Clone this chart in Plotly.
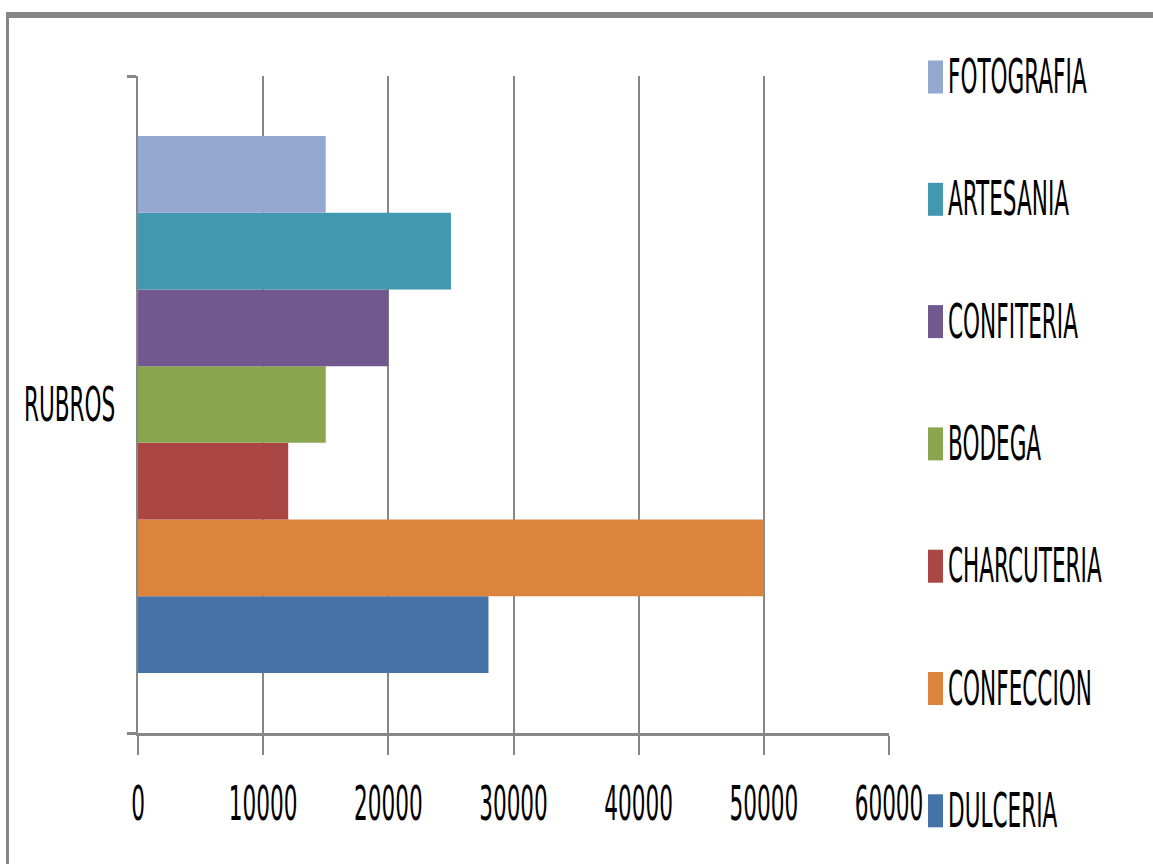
import plotly.graph_objects as go

# Data
category = ["RUBROS"]
series_names = ["DULCERIA", "CONFECCION", "CHARCUTERIA", "BODEGA", "CONFITERIA", "ARTESANIA", "FOTOGRAFIA"]
series_values = [28000, 50000, 12000, 15000, 20000, 25000, 15000]
series_colors = ["#4572A7", "#DB843D", "#AA4643", "#89A54E", "#71588F", "#4198AF", "#95A9D0"]
x_ticks = [0, 10000, 20000, 30000, 40000, 50000, 60000]

FONT = "DejaVu Sans Condensed, Liberation Sans Narrow, Arial Narrow, sans-serif"
FS = 24
W, H = 1153, 864
L, R, T, B = 138, 889, 76, 733

fig = go.Figure()
for name, val, col in zip(series_names, series_values, series_colors):
    fig.add_trace(go.Bar(
        y=category, x=[val], name=name, orientation="h",
        marker=dict(color=col, line=dict(width=0)),
        showlegend=False,
    ))

def px_x(p):
    return (p - L) / (R - L)

def px_y(p):
    return (B - p) / (B - T)

shapes = [
    # top border
    dict(type="line", xref="paper", yref="paper",
         x0=px_x(6), x1=px_x(1160), y0=px_y(15), y1=px_y(15),
         line=dict(color="#878787", width=6)),
    # left border
    dict(type="line", xref="paper", yref="paper",
         x0=px_x(7.5), x1=px_x(7.5), y0=px_y(12), y1=px_y(870),
         line=dict(color="#878787", width=3)),
]
annotations = []

# Legend drawn at the right (top item = last series)
legend_order = list(zip(series_names, series_colors))[::-1]
for i, (name, col) in enumerate(legend_order):
    cy = 77 + i * 122.3
    shapes.append(dict(type="rect", xref="paper", yref="paper",
                       x0=px_x(928), x1=px_x(943), y0=px_y(cy - 16.5), y1=px_y(cy + 16.5),
                       fillcolor=col, line=dict(width=0)))
    annotations.append(dict(xref="paper", yref="paper", x=px_x(946), y=px_y(cy),
                            xanchor="left", yanchor="middle", text=name, showarrow=False,
                            font=dict(family=FONT, size=FS, color="black")))

fig.update_layout(
    width=W, height=H,
    margin=dict(l=L, r=W - R, t=T, b=H - B, pad=0),
    paper_bgcolor="white", plot_bgcolor="white",
    barmode="group", bargap=0.183, bargroupgap=0,
    font=dict(family=FONT, size=FS, color="black"),
    showlegend=False,
    xaxis=dict(
        range=[0, 60000], tickvals=x_ticks, ticktext=[str(v) for v in x_ticks],
        showgrid=True, gridcolor="#878787", gridwidth=1.5,
        zeroline=False,
        showline=True, linecolor="#878787", linewidth=2.5,
        ticks="outside", ticklen=19, tickcolor="#878787", tickwidth=1.5,
        ticklabelstandoff=28,
        tickfont=dict(family=FONT, size=FS, color="black"),
        fixedrange=True,
    ),
    yaxis=dict(
        showline=True, linecolor="#878787", linewidth=2,
        ticks="outside", ticklen=9, tickcolor="#878787", tickwidth=2.5,
        tickson="boundaries",
        ticklabelstandoff=16,
        tickfont=dict(family=FONT, size=FS, color="black"),
        showgrid=False,
        fixedrange=True,
    ),
    shapes=shapes,
    annotations=annotations,
)

# The reference text is tall and narrow: stretch the rendered text vertically.
post = """
document.body.style.margin='0px';
document.documentElement.style.overflow='hidden';
(function(){
  var k = 2.0;
  var gd = document.getElementById('{plot_id}');
  function stretch(){
    gd.querySelectorAll('text').forEach(function(t){
      var tr = t.getAttribute('transform') || '';
      if (tr.indexOf('scale(1,') >= 0) return;
      var b; try { b = t.getBBox(); } catch(e) { return; }
      if (!b || b.height === 0) return;
      var cy = b.y + b.height / 2;
      t.setAttribute('transform', tr + ' translate(0,' + (cy * (1 - k)) + ') scale(1,' + k + ')');
    });
  }
  stretch();
  if (gd.on) gd.on('plotly_afterplot', stretch);
})();
"""

fig.write_html("out.html", config={"displayModeBar": False}, post_script=post)
